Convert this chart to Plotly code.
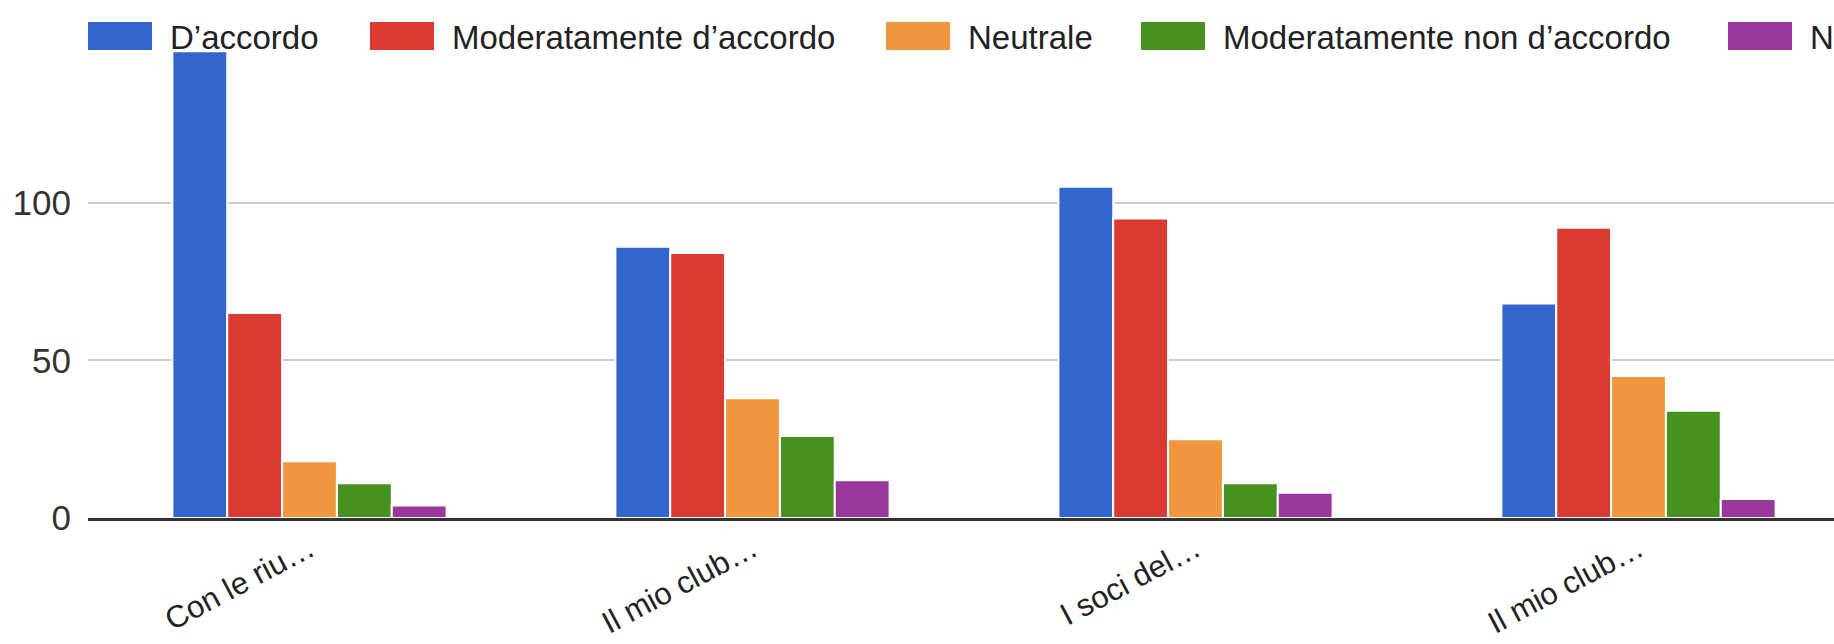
import plotly.graph_objects as go

# ---- data ----
categories = ["Con le riu…", "Il mio club…", "I soci del…", "Il mio club…"]
series_names = ["D’accordo", "Moderatamente d’accordo", "Neutrale",
                "Moderatamente non d’accordo", "Non d’accordo"]
d_accordo = [148, 86, 105, 68]
mod_accordo = [65, 84, 95, 92]
neutrale = [18, 38, 25, 45]
mod_non_accordo = [11, 26, 11, 34]
non_accordo = [4, 12, 8, 6]
y_tick_vals = [0, 50, 100, 150]
y_tick_text = ["0", "50", "100", ""]

series_values = [d_accordo, mod_accordo, neutrale, mod_non_accordo, non_accordo]
colors = ["#3366CC", "#DB3A32", "#F0963F", "#47911F", "#99379A"]

# ---- layout constants ----
W, H = 1834, 644
ML, MT, MB = 88, 44, 126
plot_w = W - ML
plot_h = H - MT - MB
pitch = 443.0
FONT = "Arial, 'Liberation Sans', sans-serif"

x_pos = list(range(len(categories)))

fig = go.Figure()
for name, vals, col in zip(series_names, series_values, colors):
    fig.add_trace(go.Bar(
        x=x_pos, y=vals, name=name,
        marker=dict(color=col, line=dict(color="white", width=2)),
        showlegend=False,
    ))

fig.update_layout(
    width=W, height=H,
    margin=dict(l=ML, r=0, t=MT, b=MB, pad=0, autoexpand=False),
    barmode="group",
    bargap=0.381,
    bargroupgap=0,
    plot_bgcolor="white",
    paper_bgcolor="white",
    font=dict(family=FONT, size=33, color="#333333"),
    showlegend=False,
)
fig.update_xaxes(
    range=[-0.5, -0.5 + plot_w / pitch],
    tickmode="array", tickvals=x_pos, ticktext=categories,
    tickangle=-28,
    tickfont=dict(size=31, color="#222222", family=FONT),
    showgrid=False, zeroline=False,
    showline=True, linecolor="#333333", linewidth=2.5,
    ticks="", layer="above traces", automargin=False,
    ticklabelstandoff=-2,
)
fig.update_yaxes(
    range=[0, 150.3],
    tickmode="array", tickvals=y_tick_vals, ticktext=y_tick_text,
    tickfont=dict(size=35, color="#333333", family=FONT),
    showgrid=True, gridcolor="#CCCCCC", gridwidth=1.5,
    zeroline=False, showline=False, ticks="",
    ticklabelstandoff=16, automargin=False,
)

# ---- custom legend (Google-Charts style wide swatches) ----
legend_rect_x = [88, 370, 886, 1141, 1728]
rect_w, rect_top, rect_bot = 64, 22, 50
text_offset = 80


def px_to_paper_x(px):
    return (px - ML) / plot_w


def px_to_paper_y(py):
    return 1 - (py - MT) / plot_h


for name, col, rx in zip(series_names, colors, legend_rect_x):
    fig.add_shape(type="rect", xref="paper", yref="paper",
                  x0=px_to_paper_x(rx), x1=px_to_paper_x(rx + rect_w),
                  y0=px_to_paper_y(rect_bot), y1=px_to_paper_y(rect_top),
                  fillcolor=col, line=dict(width=0), layer="above")
    fig.add_annotation(xref="paper", yref="paper",
                       x=px_to_paper_x(rx + text_offset), y=px_to_paper_y(37),
                       xanchor="left", yanchor="middle", showarrow=False,
                       text=name, font=dict(size=33, color="#222222", family=FONT))

fig.write_html("out.html", config={"displayModeBar": False},
               post_script="document.body.style.margin='0';document.body.style.overflow='hidden';")
